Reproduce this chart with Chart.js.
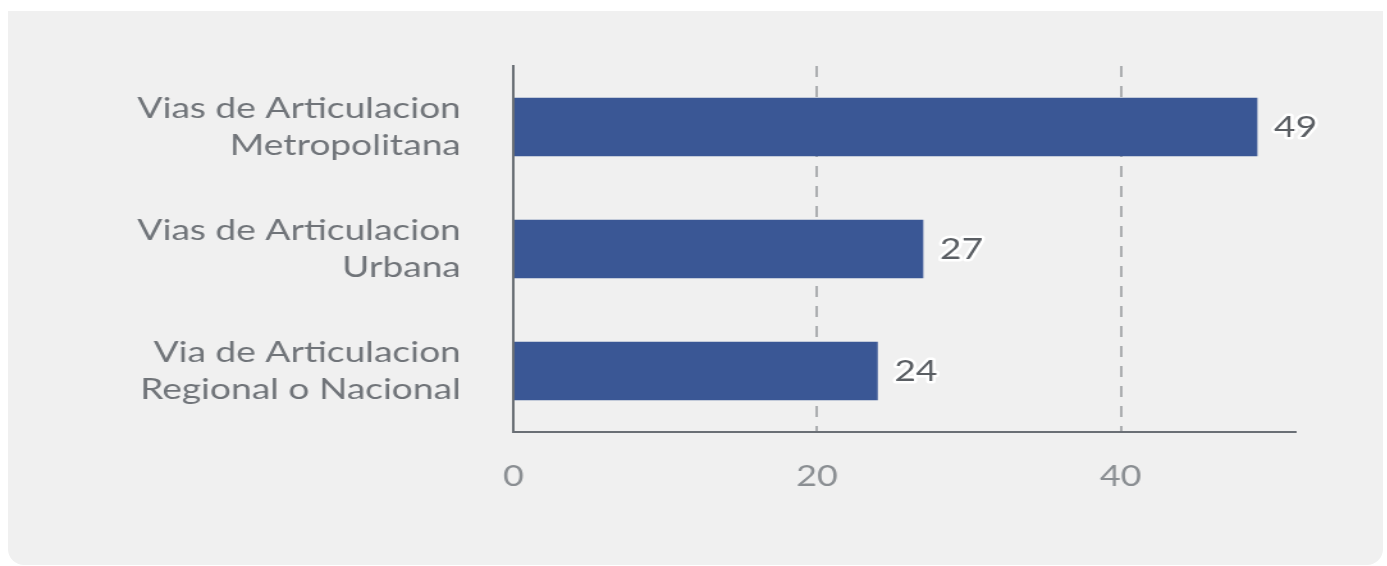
<!DOCTYPE html>
<html>
<head>
<meta charset="utf-8">
<script src="https://cdn.jsdelivr.net/npm/chart.js@4"></script>
<style>
  html, body { margin: 0; padding: 0; background: #fff; overflow: hidden; }
  #panel {
    position: absolute; left: 8px; top: 11px; width: 1375px; height: 554px;
    background: #f0f0f0; border-radius: 0 0 16px 16px;
  }
  /* the reference is a horizontally stretched screenshot */
  #wrap {
    position: absolute; left: 0; top: 0; width: 1084px; height: 566px;
    transform: scaleX(1.28); transform-origin: 0 0;
  }
</style>
</head>
<body>
<div id="panel"></div>
<div id="wrap"><canvas id="chart"></canvas></div>
<script>
const categories = [
  ["Vias de Articulacion", "Metropolitana"],
  ["Vias de Articulacion", "Urbana"],
  ["Via de Articulacion", "Regional o Nacional"],
];
const values = [49, 27, 24];
const tickValues = [0, 20, 40];

// value labels at the end of each bar
const barLabels = {
  id: "barLabels",
  afterDatasetsDraw(chart) {
    const ctx = chart.ctx;
    const meta = chart.getDatasetMeta(0);
    ctx.save();
    ctx.font = "29px Lato";
    ctx.textAlign = "left";
    ctx.textBaseline = "middle";
    ctx.lineJoin = "round";
    meta.data.forEach((bar, i) => {
      const x = bar.x + 13;
      const y = bar.y + 1;
      ctx.strokeStyle = "#ffffff";
      ctx.lineWidth = 5;
      ctx.strokeText(values[i], x, y);
      ctx.fillStyle = "#5a5e63";
      ctx.fillText(values[i], x, y);
    });
    ctx.restore();
  },
};

new Chart(document.getElementById("chart"), {
  type: "bar",
  data: {
    labels: categories,
    datasets: [
      {
        data: values,
        backgroundColor: "#3a5795",
        borderWidth: 0,
        categoryPercentage: 1,
        barPercentage: 0.48,
      },
    ],
  },
  options: {
    indexAxis: "y",
    responsive: true,
    maintainAspectRatio: false,
    animation: false,
    layout: { padding: { left: 0, right: 72, top: 66, bottom: 0 } },
    plugins: { legend: { display: false }, tooltip: { enabled: false } },
    scales: {
      x: {
        min: 0,
        max: 51.5,
        afterBuildTicks: (axis) => {
          axis.ticks = tickValues.map((v) => ({ value: v }));
        },
        afterFit: (scale) => {
          scale.height = 134;
        },
        border: { display: true, color: "#6a6f75", width: 2, dash: [11, 9] },
        grid: {
          drawTicks: false,
          color: (c) => (c.tick && c.tick.value === 0 ? "rgba(0,0,0,0)" : "#acaeb0"),
          lineWidth: 2,
        },
        ticks: {
          padding: 28,
          color: "#8a8e92",
          font: { family: "Lato", size: 28 },
        },
      },
      y: {
        afterFit: (scale) => {
          scale.width = 401;
          scale.paddingTop = 0;
          scale.paddingBottom = 0;
        },
        border: { color: "#6a6f75", width: 2 },
        grid: { display: false, drawTicks: false },
        ticks: {
          padding: 41,
          color: "#707479",
          font: { family: "Lato", size: 29, lineHeight: 1.28 },
        },
      },
    },
  },
  plugins: [barLabels],
});
</script>
</body>
</html>
